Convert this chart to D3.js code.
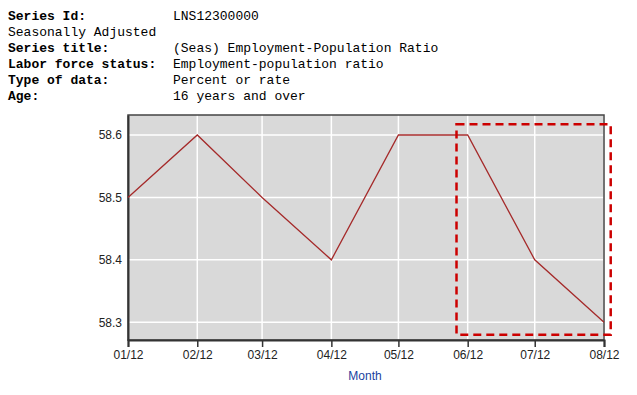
<!DOCTYPE html>
<html><head><meta charset="utf-8">
<script src="https://cdn.jsdelivr.net/npm/d3@7"></script>
<style>body{margin:0;background:#fff;} svg{display:block;}</style>
</head><body>
<svg id="c" width="637" height="395"></svg>
<script>
const headerLabels = ["Series Id:", "Seasonally Adjusted", "Series title:", "Labor force status:", "Type of data:", "Age:"];
const headerValues = ["LNS12300000", "", "(Seas) Employment-Population Ratio", "Employment-population ratio", "Percent or rate", "16 years and over"];
const months = ["2012-01-01","2012-02-01","2012-03-01","2012-04-01","2012-05-01","2012-06-01","2012-07-01","2012-08-01"];
const values = [58.5, 58.6, 58.5, 58.4, 58.6, 58.6, 58.4, 58.3];
const yTicks = [58.3, 58.4, 58.5, 58.6];
const highlight = ["2012-05-27", "2012-08-04", 58.617, 58.28];

const svg = d3.select("#c");
const parse = d3.timeParse("%Y-%m-%d");
const dates = months.map(parse);

// header
const hdr = svg.append("g").attr("font-family", "'Liberation Mono','Courier New',monospace").attr("font-size", 13).attr("fill", "#000");
headerLabels.forEach((t, i) => {
  hdr.append("text").attr("x", 8).attr("y", 20 + i * 16)
    .attr("font-weight", i === 1 ? "normal" : "bold").text(t);
  if (headerValues[i]) hdr.append("text").attr("x", 173).attr("y", 20 + i * 16).text(headerValues[i]);
});

const L = 128, R = 604, T = 115, B = 340;
const x = d3.scaleTime().domain([dates[0], dates[dates.length - 1]]).range([L, R]);
const y = d3.scaleLinear().domain([58.2716, 58.632]).range([B, T]);

svg.append("rect").attr("x", L).attr("y", T).attr("width", R - L).attr("height", B - T).attr("fill", "#d9d9d9");

// grid
svg.append("g").selectAll("line").data(dates).join("line")
  .attr("x1", d => x(d)).attr("x2", d => x(d)).attr("y1", T).attr("y2", B)
  .attr("stroke", "#fff").attr("stroke-width", 1.5);
svg.append("g").selectAll("line").data(yTicks).join("line")
  .attr("x1", L).attr("x2", R).attr("y1", d => y(d)).attr("y2", d => y(d))
  .attr("stroke", "#fff").attr("stroke-width", 1.5);

// frame
svg.append("rect").attr("x", L).attr("y", T).attr("width", R - L).attr("height", B - T)
  .attr("fill", "none").attr("stroke", "#444").attr("stroke-width", 1.5);

// x axis
const xAxis = d3.axisBottom(x).tickValues(dates).tickFormat(d3.timeFormat("%m/%y")).tickSizeOuter(0).tickSize(7).tickPadding(3);
const gx = svg.append("g").attr("transform", `translate(0,${B})`).call(xAxis);
gx.select(".domain").attr("stroke", "#333").attr("stroke-width", 2);
gx.selectAll(".tick line").attr("stroke", "#333").attr("stroke-width", 1.5);
gx.selectAll("text").attr("font-family", "Arial, 'Liberation Sans', sans-serif").attr("font-size", 12).attr("fill", "#222");

// y axis
const yAxis = d3.axisLeft(y).tickValues(yTicks).tickFormat(d3.format(".1f")).tickSize(0).tickPadding(6).tickSizeOuter(0);
const gy = svg.append("g").attr("transform", `translate(${L},0)`).call(yAxis);
gy.select(".domain").attr("stroke", "#333").attr("stroke-width", 2);
gy.selectAll("text").attr("font-family", "Arial, 'Liberation Sans', sans-serif").attr("font-size", 12).attr("fill", "#222");

svg.append("text").attr("x", 365).attr("y", 380).attr("text-anchor", "middle")
  .attr("font-family", "Arial, 'Liberation Sans', sans-serif").attr("font-size", 12).attr("fill", "#1a3fa0").text("Month");

// line
const line = d3.line().x((d, i) => x(dates[i])).y(d => y(d));
svg.append("path").datum(values).attr("d", line).attr("fill", "none").attr("stroke", "#a52a2a").attr("stroke-width", 1.3);

// highlight dashed rectangle
const hx0 = x(parse(highlight[0])), hx1 = x(parse(highlight[1]));
const hy0 = y(highlight[2]), hy1 = y(highlight[3]);
svg.append("rect").attr("x", hx0).attr("y", hy0).attr("width", hx1 - hx0).attr("height", hy1 - hy0)
  .attr("fill", "none").attr("stroke", "#cc0000").attr("stroke-width", 2.5).attr("stroke-dasharray", "8,5");
</script>
</body></html>
